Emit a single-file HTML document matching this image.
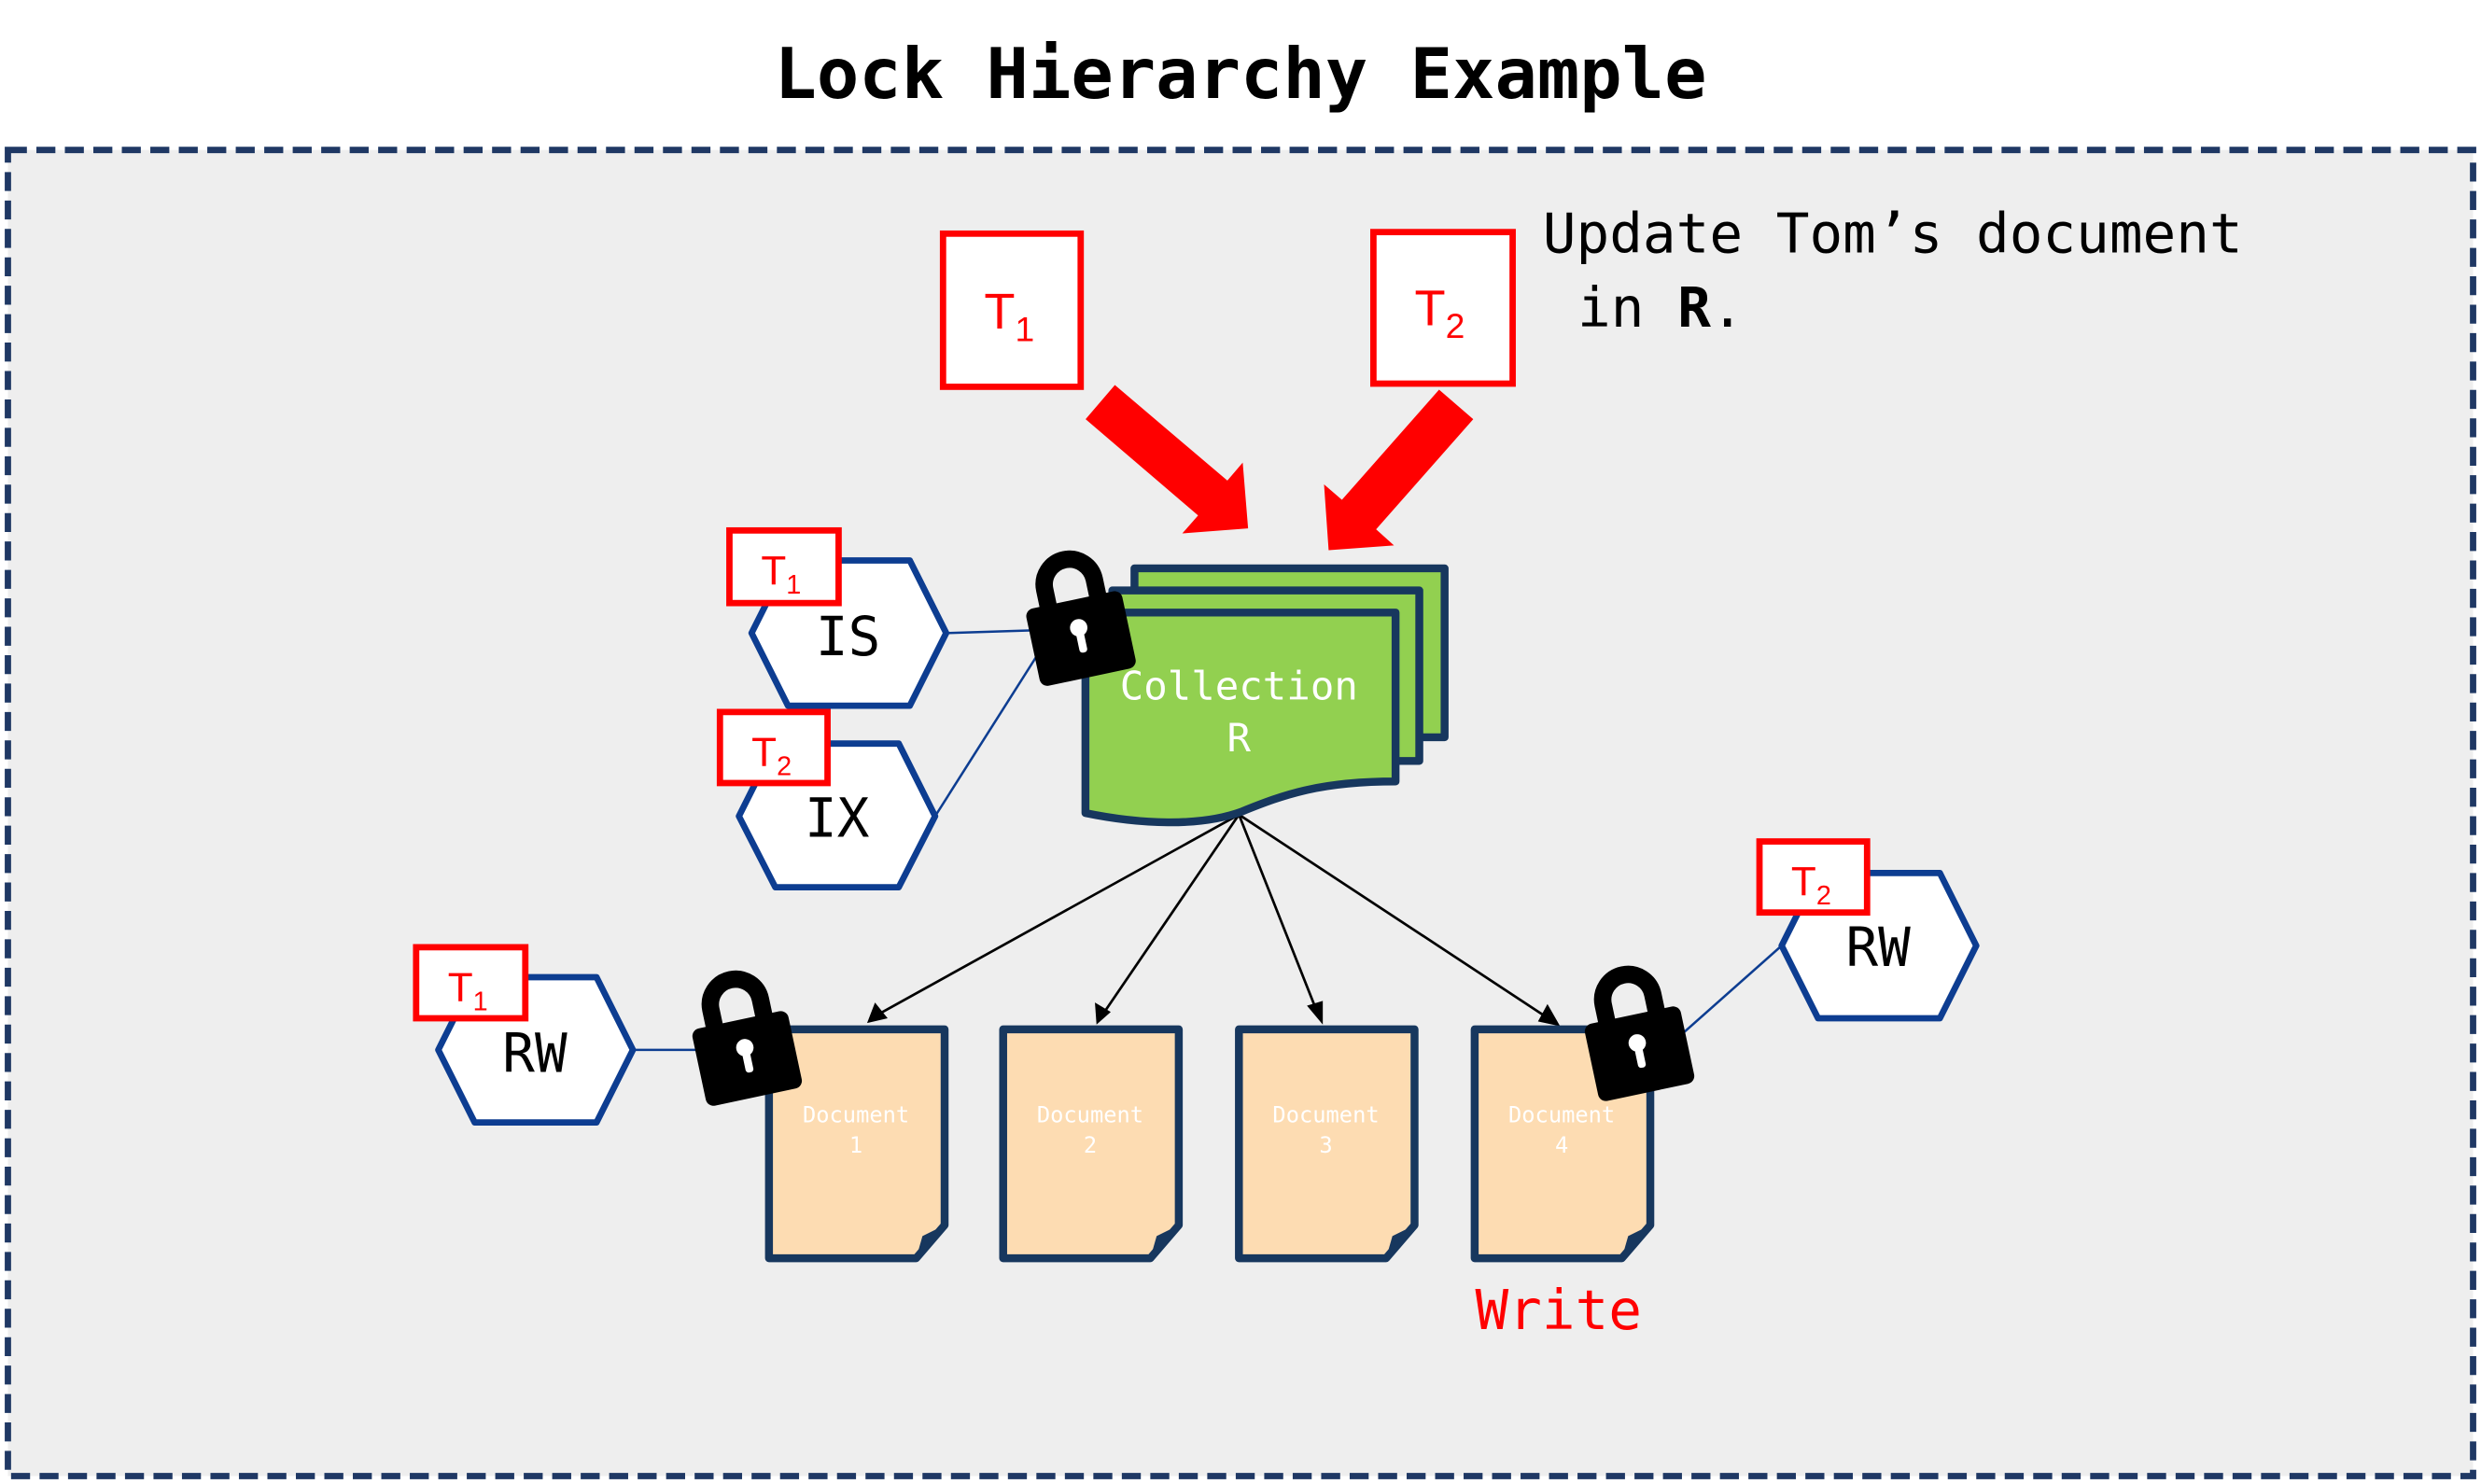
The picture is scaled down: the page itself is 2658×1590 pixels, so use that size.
<!DOCTYPE html>
<html><head><meta charset="utf-8"><style>
html,body{margin:0;padding:0;background:#fff}
svg{display:block}
.mono{font-family:"DejaVu Sans Mono","Liberation Mono",monospace}
.sans{font-family:"Liberation Sans","DejaVu Sans",sans-serif}
</style></head><body>
<svg width="2658" height="1590" viewBox="0 0 1568 940" preserveAspectRatio="none" xmlns="http://www.w3.org/2000/svg">
<defs>
<g id="lock">
<path d="M-16,4 V-10 A16,16 0 0 1 16,-10 V4" fill="none" stroke="#000" stroke-width="11"/>
<rect x="-31" y="0" width="62" height="50" rx="5" fill="#000"/>
<circle cx="0" cy="18" r="5.5" fill="#fff"/>
<rect x="-2.5" y="18" width="5" height="16" rx="2" fill="#fff"/>
</g>
</defs>
<rect width="1568" height="940" fill="#fff"/>
<text x="784" y="62" text-anchor="middle" class="mono" font-size="44.5" font-weight="bold" fill="#000">Lock Hierarchy Example</text>
<rect x="5" y="95" width="1558" height="840" fill="#eeeeee" stroke="#1f3864" stroke-width="4" stroke-dasharray="12,6"/>

<rect x="596" y="148" width="87" height="97" fill="#fff" stroke="#ff0000" stroke-width="4"/>
<text x="622" y="208" class="sans" font-size="32" fill="#f00">T<tspan font-size="22" dy="8">1</tspan></text>
<rect x="868" y="147" width="88" height="96" fill="#fff" stroke="#ff0000" stroke-width="4"/>
<text x="894" y="206" class="sans" font-size="32" fill="#f00">T<tspan font-size="22" dy="8">2</tspan></text>

<text x="975" y="160" class="mono" font-size="35" fill="#000">Update Tom’s document</text>
<text x="997" y="207" class="mono" font-size="35" fill="#000">in <tspan font-weight="bold">R</tspan>.</text>

<polygon points="704.6,243.9 686.1,265.5 757.2,326.5 747.2,337.9 788.8,334.7 785.4,293 775.7,304.4" fill="#ff0000"/>
<polygon points="909.5,246.8 931.1,265.5 869.7,335.3 881,345.5 839.7,348.5 836.8,306.8 848.1,316.6" fill="#ff0000"/>

<g stroke="#000" stroke-width="1.6" fill="#000">
<line x1="783" y1="516" x2="556" y2="642"/>
<line x1="783" y1="516" x2="698" y2="641"/>
<line x1="783" y1="516" x2="832" y2="640"/>
<line x1="783" y1="516" x2="977" y2="644"/>
</g>
<polygon points="548,648 553,635 561,645" fill="#000"/>
<polygon points="693,649 692,635 702,641" fill="#000"/>
<polygon points="836,649 826,637 836,634" fill="#000"/>
<polygon points="986,650 972,647 978,636" fill="#000"/>

<g stroke="#17375e" stroke-width="5" fill="#92d050" stroke-linejoin="round">
<rect x="717" y="360" width="196" height="107"/>
<rect x="703" y="374" width="194" height="108"/>
<path d="M686,388 H882 V495 C835,495 812,503 785,514 C758,524 720,522 686,515 Z"/>
</g>
<text x="783" y="443" text-anchor="middle" class="mono" font-size="25" fill="#fff">Collection</text>
<text x="783" y="476" text-anchor="middle" class="mono" font-size="25" fill="#fff">R</text>

<line x1="598" y1="401" x2="662" y2="399" stroke="#0d3d91" stroke-width="1.5"/>
<line x1="591" y1="517" x2="660" y2="408" stroke="#0d3d91" stroke-width="1.5"/>
<line x1="400" y1="665" x2="446" y2="665" stroke="#0d3d91" stroke-width="1.5"/>
<line x1="1126" y1="599" x2="1063" y2="655" stroke="#0d3d91" stroke-width="1.5"/>

<g fill="#fff" stroke="#0d3d91" stroke-width="4" stroke-linejoin="round">
<polygon points="475,401 498,355 575,355 598,401 575,447 498,447"/>
<polygon points="467,517 490,471 568,471 591,517 568,562 490,562"/>
<polygon points="277,665 300,619 377,619 400,665 377,711 300,711"/>
<polygon points="1126,599 1149,553 1226,553 1249,599 1226,645 1149,645"/>
</g>
<text x="536" y="415" text-anchor="middle" class="mono" font-size="34" fill="#000">IS</text>
<text x="529" y="530" text-anchor="middle" class="mono" font-size="34" fill="#000">IX</text>
<text x="338" y="679" text-anchor="middle" class="mono" font-size="34" fill="#000">RW</text>
<text x="1187" y="612" text-anchor="middle" class="mono" font-size="34" fill="#000">RW</text>

<g fill="#fff" stroke="#ff0000" stroke-width="4">
<rect x="461" y="336" width="69" height="46"/>
<rect x="455" y="451" width="68" height="45"/>
<rect x="263" y="600" width="69" height="45"/>
<rect x="1112" y="533" width="68" height="45"/>
</g>
<text x="481" y="370" class="sans" font-size="26" fill="#f00">T<tspan font-size="17" dy="6">1</tspan></text>
<text x="475" y="485" class="sans" font-size="26" fill="#f00">T<tspan font-size="17" dy="6">2</tspan></text>
<text x="283" y="634" class="sans" font-size="26" fill="#f00">T<tspan font-size="17" dy="6">1</tspan></text>
<text x="1132" y="567" class="sans" font-size="26" fill="#f00">T<tspan font-size="17" dy="6">2</tspan></text>

<g stroke="#17375e" stroke-width="5" fill="#fddcb2" stroke-linejoin="round">
<path d="M486,652 H597 V776 L579,797 H486 Z"/>
<path d="M634,652 H745 V776 L727,797 H634 Z"/>
<path d="M783,652 H894 V776 L876,797 H783 Z"/>
<path d="M932,652 H1043 V776 L1025,797 H932 Z"/>
</g>
<g fill="#17375e">
<polygon points="597,776 583,783 579,797"/>
<polygon points="745,776 731,783 727,797"/>
<polygon points="894,776 880,783 876,797"/>
<polygon points="1043,776 1029,783 1025,797"/>
</g>
<g class="mono" font-size="14" fill="#fff" text-anchor="middle">
<text x="541" y="711">Document</text><text x="541" y="730">1</text>
<text x="689" y="711">Document</text><text x="689" y="730">2</text>
<text x="838" y="711">Document</text><text x="838" y="730">3</text>
<text x="987" y="711">Document</text><text x="987" y="730">4</text>
</g>
<text x="985" y="842" text-anchor="middle" class="mono" font-size="35" fill="#ff0000">Write</text>

<use href="#lock" transform="translate(678,380) rotate(-12)"/>
<use href="#lock" transform="translate(467,646) rotate(-12)"/>
<use href="#lock" transform="translate(1031,643) rotate(-12)"/>
</svg>
</body></html>
